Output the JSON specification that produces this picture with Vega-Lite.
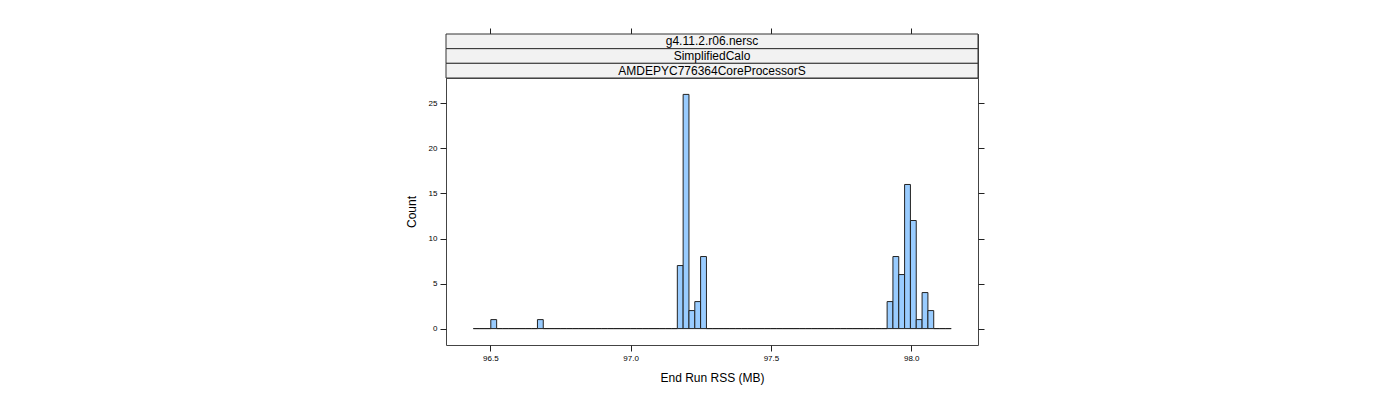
{
  "$schema": "https://vega.github.io/schema/vega-lite/v6.json",
  "padding": {"left": 404, "top": 27, "right": 10, "bottom": 5},
  "background": "white",
  "spacing": 0,
  "bounds": "flush",
  "config": {
    "view": {"stroke": "#444", "strokeWidth": 1},
    "font": "Liberation Sans",
    "axis": {
      "grid": false, "domain": false, "tickColor": "#222", "tickSize": 6, "tickWidth": 1,
      "labelFont": "Liberation Sans", "labelFontSize": 8, "labelColor": "#000",
      "titleFont": "Liberation Sans", "titleFontSize": 12, "titleFontWeight": "normal", "titleColor": "#000"
    }
  },
  "datasets": {
    "strips": [
      {"label": "g4.11.2.r06.nersc", "k": 1},
      {"label": "SimplifiedCalo", "k": 2},
      {"label": "AMDEPYC776364CoreProcessorS", "k": 3}
    ],
    "hist": [
      {"lo": 96.4394, "hi": 96.4602, "n": 0},
      {"lo": 96.4602, "hi": 96.4809, "n": 0},
      {"lo": 96.4809, "hi": 96.5017, "n": 0},
      {"lo": 96.5017, "hi": 96.5225, "n": 1},
      {"lo": 96.5225, "hi": 96.5433, "n": 0},
      {"lo": 96.5433, "hi": 96.5640, "n": 0},
      {"lo": 96.5640, "hi": 96.5848, "n": 0},
      {"lo": 96.5848, "hi": 96.6056, "n": 0},
      {"lo": 96.6056, "hi": 96.6263, "n": 0},
      {"lo": 96.6263, "hi": 96.6471, "n": 0},
      {"lo": 96.6471, "hi": 96.6679, "n": 0},
      {"lo": 96.6679, "hi": 96.6886, "n": 1},
      {"lo": 96.6886, "hi": 96.7094, "n": 0},
      {"lo": 96.7094, "hi": 96.7302, "n": 0},
      {"lo": 96.7302, "hi": 96.7510, "n": 0},
      {"lo": 96.7510, "hi": 96.7717, "n": 0},
      {"lo": 96.7717, "hi": 96.7925, "n": 0},
      {"lo": 96.7925, "hi": 96.8133, "n": 0},
      {"lo": 96.8133, "hi": 96.8340, "n": 0},
      {"lo": 96.8340, "hi": 96.8548, "n": 0},
      {"lo": 96.8548, "hi": 96.8756, "n": 0},
      {"lo": 96.8756, "hi": 96.8963, "n": 0},
      {"lo": 96.8963, "hi": 96.9171, "n": 0},
      {"lo": 96.9171, "hi": 96.9379, "n": 0},
      {"lo": 96.9379, "hi": 96.9587, "n": 0},
      {"lo": 96.9587, "hi": 96.9794, "n": 0},
      {"lo": 96.9794, "hi": 97.0002, "n": 0},
      {"lo": 97.0002, "hi": 97.0210, "n": 0},
      {"lo": 97.0210, "hi": 97.0417, "n": 0},
      {"lo": 97.0417, "hi": 97.0625, "n": 0},
      {"lo": 97.0625, "hi": 97.0833, "n": 0},
      {"lo": 97.0833, "hi": 97.1040, "n": 0},
      {"lo": 97.1040, "hi": 97.1248, "n": 0},
      {"lo": 97.1248, "hi": 97.1456, "n": 0},
      {"lo": 97.1456, "hi": 97.1664, "n": 0},
      {"lo": 97.1664, "hi": 97.1871, "n": 7},
      {"lo": 97.1871, "hi": 97.2079, "n": 26},
      {"lo": 97.2079, "hi": 97.2287, "n": 2},
      {"lo": 97.2287, "hi": 97.2494, "n": 3},
      {"lo": 97.2494, "hi": 97.2702, "n": 8},
      {"lo": 97.2702, "hi": 97.2910, "n": 0},
      {"lo": 97.2910, "hi": 97.3117, "n": 0},
      {"lo": 97.3117, "hi": 97.3325, "n": 0},
      {"lo": 97.3325, "hi": 97.3533, "n": 0},
      {"lo": 97.3533, "hi": 97.3741, "n": 0},
      {"lo": 97.3741, "hi": 97.3948, "n": 0},
      {"lo": 97.3948, "hi": 97.4156, "n": 0},
      {"lo": 97.4156, "hi": 97.4364, "n": 0},
      {"lo": 97.4364, "hi": 97.4571, "n": 0},
      {"lo": 97.4571, "hi": 97.4779, "n": 0},
      {"lo": 97.4779, "hi": 97.4987, "n": 0},
      {"lo": 97.4987, "hi": 97.5194, "n": 0},
      {"lo": 97.5194, "hi": 97.5402, "n": 0},
      {"lo": 97.5402, "hi": 97.5610, "n": 0},
      {"lo": 97.5610, "hi": 97.5818, "n": 0},
      {"lo": 97.5818, "hi": 97.6025, "n": 0},
      {"lo": 97.6025, "hi": 97.6233, "n": 0},
      {"lo": 97.6233, "hi": 97.6441, "n": 0},
      {"lo": 97.6441, "hi": 97.6648, "n": 0},
      {"lo": 97.6648, "hi": 97.6856, "n": 0},
      {"lo": 97.6856, "hi": 97.7064, "n": 0},
      {"lo": 97.7064, "hi": 97.7271, "n": 0},
      {"lo": 97.7271, "hi": 97.7479, "n": 0},
      {"lo": 97.7479, "hi": 97.7687, "n": 0},
      {"lo": 97.7687, "hi": 97.7895, "n": 0},
      {"lo": 97.7895, "hi": 97.8102, "n": 0},
      {"lo": 97.8102, "hi": 97.8310, "n": 0},
      {"lo": 97.8310, "hi": 97.8518, "n": 0},
      {"lo": 97.8518, "hi": 97.8725, "n": 0},
      {"lo": 97.8725, "hi": 97.8933, "n": 0},
      {"lo": 97.8933, "hi": 97.9141, "n": 0},
      {"lo": 97.9141, "hi": 97.9348, "n": 3},
      {"lo": 97.9348, "hi": 97.9556, "n": 8},
      {"lo": 97.9556, "hi": 97.9764, "n": 6},
      {"lo": 97.9764, "hi": 97.9972, "n": 16},
      {"lo": 97.9972, "hi": 98.0179, "n": 12},
      {"lo": 98.0179, "hi": 98.0387, "n": 1},
      {"lo": 98.0387, "hi": 98.0595, "n": 4},
      {"lo": 98.0595, "hi": 98.0802, "n": 2},
      {"lo": 98.0802, "hi": 98.1010, "n": 0},
      {"lo": 98.1010, "hi": 98.1218, "n": 0},
      {"lo": 98.1218, "hi": 98.1425, "n": 0}
    ]
  },
  "vconcat": [
    {
      "width": 532,
      "height": 44,
      "layer": [
        {
          "data": {"name": "strips"},
          "mark": {"type": "rect", "fill": "#f2f2f2", "stroke": "#333", "strokeWidth": 1},
          "encoding": {
            "y": {"field": "label", "type": "nominal", "sort": null, "axis": null,
                  "scale": {"paddingInner": 0, "paddingOuter": 0}}
          }
        },
        {
          "data": {"name": "strips"},
          "mark": {"type": "text", "fontSize": 12, "font": "Liberation Sans", "color": "#000", "baseline": "middle", "align": "center"},
          "encoding": {
            "y": {"field": "label", "type": "nominal", "sort": null, "axis": null},
            "text": {"field": "label"}
          }
        },
        {
          "data": {"name": "hist"},
          "mark": {"type": "rule", "opacity": 0},
          "encoding": {
            "x": {"field": "lo", "type": "quantitative",
                  "scale": {"domain": [96.342, 98.238], "nice": false, "zero": false},
                  "axis": {"orient": "top", "labels": false, "title": null, "values": [96.5, 97, 97.5, 98]}}
          }
        }
      ]
    },
    {
      "width": 532,
      "height": 267,
      "data": {"name": "hist"},
      "layer": [
        {
          "mark": {"type": "bar", "fill": "#99ccff", "stroke": "#222", "strokeWidth": 1},
          "encoding": {
            "x": {"field": "lo", "type": "quantitative",
                  "scale": {"domain": [96.342, 98.238], "nice": false, "zero": false},
                  "axis": {"title": "End Run RSS (MB)", "values": [96.5, 97, 97.5, 98], "format": ".1f", "labelPadding": 3, "titlePadding": 10}},
            "x2": {"field": "hi"},
            "y": {"field": "n", "type": "quantitative",
                  "scale": {"domain": [-1.82, 27.82], "nice": false, "zero": false},
                  "axis": {"title": "Count", "values": [0, 5, 10, 15, 20, 25], "labelPadding": 3, "titlePadding": 10}},
            "y2": {"datum": 0}
          }
        },
        {
          "mark": {"type": "rule", "opacity": 0},
          "encoding": {
            "y": {"field": "n", "type": "quantitative",
                  "axis": {"orient": "right", "labels": false, "title": null, "values": [0, 5, 10, 15, 20, 25]}}
          }
        }
      ],
      "resolve": {"axis": {"y": "independent"}}
    }
  ]
}
